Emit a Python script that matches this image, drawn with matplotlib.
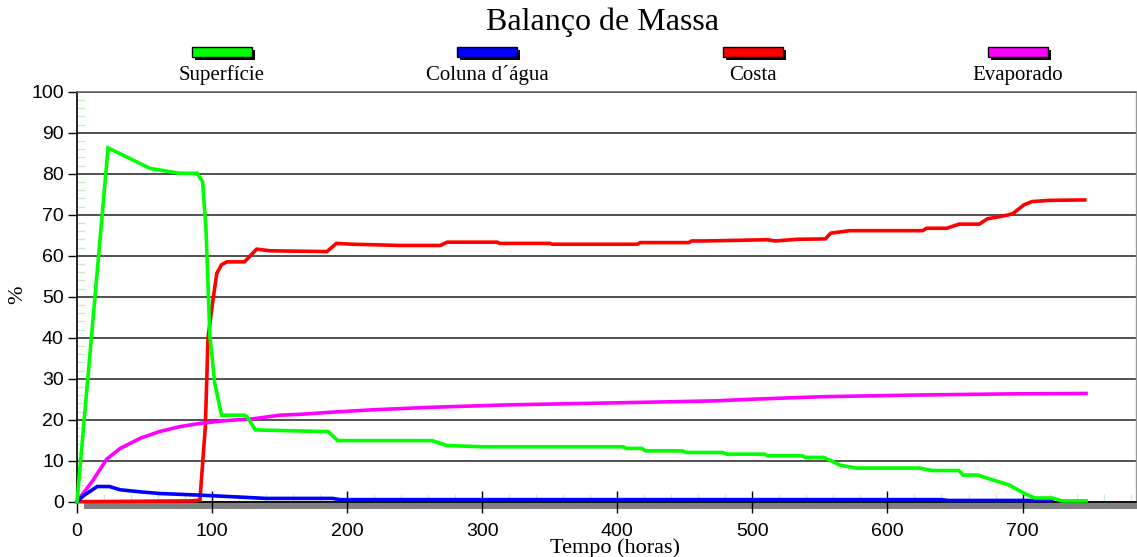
import matplotlib
matplotlib.use("Agg")
import matplotlib.pyplot as plt
from matplotlib.patches import Rectangle
from matplotlib.ticker import MultipleLocator

# textos
titulo = "Balanço de Massa"
rotulo_x = "Tempo (horas)"
rotulo_y = "%"
nomes = ["Superfície", "Coluna d´água", "Costa", "Evaporado"]
cores = ["#00ff00", "#0000ff", "#ff0000", "#ff00ff"]

# dados: (tempo em horas, %)
superficie = [
    (0, 0), (23, 86.3), (54, 81.3), (76, 80.1), (89, 80.1), (93, 78.0),
    (95.5, 66.3), (98.4, 40.2), (102, 28.9), (107, 21.1), (124, 21.1),
    (126, 20.7), (132, 17.5), (186, 17.1), (193, 14.9), (263, 14.9),
    (274, 13.7), (300, 13.4), (404, 13.4), (407, 13.0), (418, 13.0),
    (421, 12.4), (448, 12.4), (451, 12.0), (478, 12.0), (481, 11.6),
    (509, 11.6), (511, 11.2), (537, 11.2), (539, 10.8), (553, 10.8),
    (565, 8.9), (577, 8.2), (624, 8.2), (633, 7.6), (653, 7.6), (656, 6.5),
    (667, 6.5), (676, 5.5), (690, 4.1), (702, 1.9), (709, 0.9), (722, 0.9),
    (729, 0.2), (747, 0.2),
]
coluna = [
    (0, 0), (5, 1.5), (15, 3.7), (24, 3.7), (32, 2.9), (47, 2.4), (61, 2.0),
    (91, 1.6), (116, 1.2), (140, 0.8), (189, 0.8), (195, 0.5), (640, 0.5),
    (645, 0.3), (722, 0.3),
]
costa = [
    (0, 0), (85, 0.2), (91, 0.4), (95, 18.2), (97, 40.0), (101, 50.0),
    (103.5, 55.7), (107, 57.8), (111, 58.5), (124, 58.5), (133, 61.6),
    (143, 61.2), (185, 61.0), (192, 63.0), (204, 62.8), (239, 62.5),
    (269, 62.5), (274, 63.3), (311, 63.3), (313, 63.0), (350, 63.0),
    (352, 62.8), (415, 62.8), (417, 63.2), (453, 63.2), (455, 63.6),
    (466, 63.6), (511, 63.9), (517, 63.6), (533, 64.0), (554, 64.1),
    (558, 65.5), (572, 66.1), (626, 66.1), (629, 66.7), (644, 66.7),
    (653, 67.7), (668, 67.7), (674, 69.0), (689, 69.9), (693, 70.3),
    (701, 72.4), (707, 73.2), (720, 73.5), (746, 73.6),
]
evaporado = [
    (0, 0), (12, 5.3), (22, 10.4), (32, 13.0), (47, 15.5), (61, 17.1),
    (76, 18.3), (91, 19.1), (111, 19.8), (130, 20.2), (150, 21.1),
    (165, 21.3), (187, 21.8), (218, 22.4), (260, 23.0), (317, 23.6),
    (380, 24.0), (428, 24.3), (473, 24.6), (500, 25.0), (551, 25.6),
    (618, 26.0), (691, 26.3), (747, 26.4),
]
series = [superficie, coluna, costa, evaporado]

W, H = 1137, 557
serif = "Liberation Serif"
sans = "Liberation Sans"

fig = plt.figure(figsize=(W / 100, H / 100), dpi=100)
ax = fig.add_axes([77 / W, 55.3 / H, 1059 / W, 410 / H])

# desenha costa primeiro, superficie por cima
for idx in [2, 3, 1, 0]:
    pts = series[idx]
    ax.plot([p[0] for p in pts], [p[1] for p in pts], color=cores[idx],
            lw=2.6, solid_joinstyle="miter", zorder=3, clip_on=False)

ax.set_xlim(0, 784)
ax.set_ylim(0, 100)
ax.xaxis.set_major_locator(MultipleLocator(100))
ax.xaxis.set_minor_locator(MultipleLocator(20))
ax.yaxis.set_major_locator(MultipleLocator(10))
ax.yaxis.set_minor_locator(MultipleLocator(2))

ax.yaxis.grid(True, which="major", color="#333333", lw=1.2, zorder=1)
ax.set_axisbelow(True)

ax.tick_params(axis="x", which="major", direction="inout", length=16,
               width=1, color="black", labelsize=14, pad=7)
ax.tick_params(axis="y", which="major", direction="out", length=6.5,
               width=1, color="black", labelsize=14, pad=3)
ax.tick_params(which="minor", direction="in", length=6, width=1,
               color="#c8f0c8")
for lab in ax.get_xticklabels() + ax.get_yticklabels():
    lab.set_family(sans)

ax.spines["left"].set_color("black")
ax.spines["left"].set_linewidth(1.2)
ax.spines["bottom"].set_color("black")
ax.spines["bottom"].set_linewidth(1.2)
ax.spines["top"].set_color("#666666")
ax.spines["top"].set_linewidth(1.2)
ax.spines["right"].set_color("#999999")
ax.spines["right"].set_linewidth(1)

# faixa cinza (sombra) sob o eixo x
fig.patches.append(Rectangle((84 / W, (H - 509) / H), 1 - 84 / W, 7 / H,
                             transform=fig.transFigure, facecolor="#808080",
                             edgecolor="none", zorder=-1))

# legenda feita a mao
centros = [222, 487, 753, 1018]
for cx, nome, cor in zip(centros, nomes, cores):
    x0 = (cx - 30) / W
    fig.patches.append(Rectangle((x0 + 3 / W, (H - 60) / H), 60 / W, 10 / H,
                                 transform=fig.transFigure, facecolor="black",
                                 edgecolor="none", zorder=2))
    fig.patches.append(Rectangle((x0, (H - 57) / H), 60 / W, 10 / H,
                                 transform=fig.transFigure, facecolor=cor,
                                 edgecolor="black", lw=1, zorder=3))
    fig.text(cx / W, 1 - 80 / H, nome, ha="center", va="baseline",
             family=serif, fontsize=15)

fig.text(602 / W, 1 - 22 / H, titulo, ha="center", va="center",
         family=serif, fontsize=23)
fig.text(615 / W, 1 - 548 / H, rotulo_x, ha="center", va="center",
         family=serif, fontsize=16)
fig.text(18 / W, 1 - 295 / H, rotulo_y, ha="center", va="center",
         rotation=90, family=serif, fontsize=16)

fig.savefig("out.png", dpi=100)
